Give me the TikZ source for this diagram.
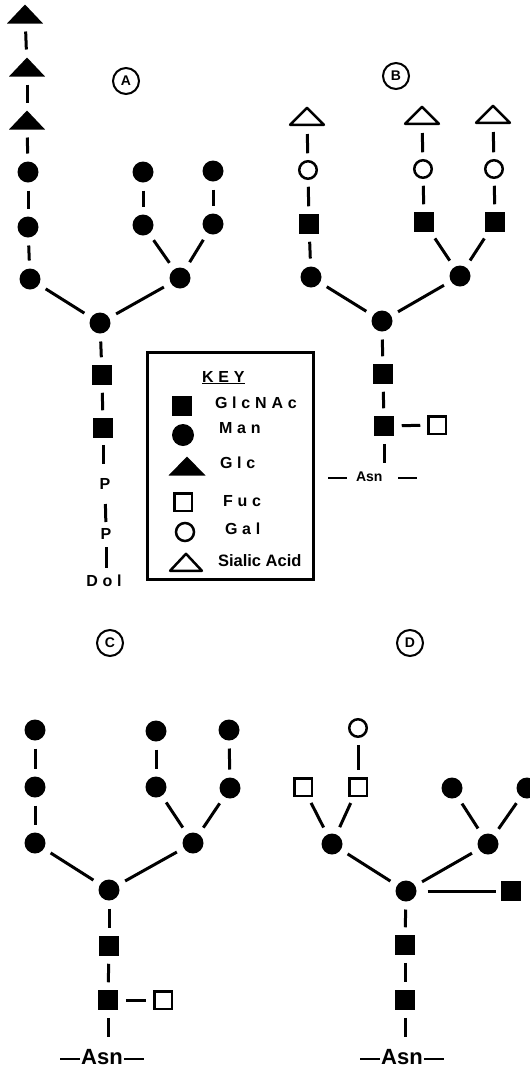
\documentclass[tikz,border=0pt]{standalone}
\usepackage{fontspec}
\setmainfont{Liberation Sans}
\newfontfamily\spacedfont{Liberation Sans}[LetterSpace=30]
\begin{document}
\begin{tikzpicture}[x=1pt,y=-1pt,
  every node/.style={inner sep=0pt, outer sep=0pt},
  man/.style={circle, fill=black, minimum size=21pt},
  glcnac/.style={rectangle, fill=black, minimum size=19.5pt},
  gal/.style={circle, draw=black, line width=2.5pt, minimum size=17.5pt},
  fuc/.style={rectangle, draw=black, line width=2.5pt, minimum size=17.5pt},
  glc/.style={rectangle, minimum width=36pt, minimum height=19pt,
    append after command={\pgfextra{\fill[black] (\tikzlastnode.south west) -- (\tikzlastnode.north) -- (\tikzlastnode.south east) -- cycle;}}},
  sia/.style={rectangle, minimum width=37pt, minimum height=20pt,
    append after command={\pgfextra{\draw[black, line width=2.5pt, line join=round]
      ([shift={(1.6pt,1.25pt)}]\tikzlastnode.south west) -- ([yshift=-1.8pt]\tikzlastnode.north) -- ([shift={(-1.6pt,1.25pt)}]\tikzlastnode.south east) -- cycle;}}},
  link/.style={line width=3pt, shorten <=8pt, shorten >=8pt},
  panel/.style={circle, draw=black, line width=2pt, minimum size=26pt, font=\fontsize{14}{14}\selectfont\bfseries},
  keytxt/.style={anchor=base west, font=\spacedfont\fontsize{16}{16}\selectfont\bfseries},
  ptxt/.style={anchor=base, font=\spacedfont\fontsize{16}{16}\selectfont\bfseries},
  asnbig/.style={font=\fontsize{22}{22}\selectfont\bfseries},
  asnsmall/.style={anchor=west, font=\fontsize{14}{14}\selectfont\bfseries}
]
\useasboundingbox (0,0) rectangle (530,1069);
\fill[white] (0,0) rectangle (530,1069);
\clip (0,0) rectangle (530,1069);

% ---------------- Panel A ----------------
\node[panel] (labA) at (126,81) {A};
\node[glc] (ta1) at (25,14) {};
\node[glc] (ta2) at (27,67) {};
\node[glc] (ta3) at (27,120) {};
\node[man] (ma1) at (28,172) {};
\node[man] (ma2) at (28,227) {};
\node[man] (ma3) at (30,279) {};
\node[man] (mac) at (100,323) {};
\node[man] (mr1) at (143,172) {};
\node[man] (mr2) at (143,225) {};
\node[man] (ms1) at (213,171) {};
\node[man] (ms2) at (213,224) {};
\node[man] (mab) at (180,278) {};
\node[glcnac] (ga1) at (102,375) {};
\node[glcnac] (ga2) at (103,428) {};
\node[ptxt] (p1) at (105,489) {P};
\node[ptxt] (p2) at (106,539) {P};
\node[ptxt] (dol) at (104,586) {Dol};

\draw[link] (ta1) -- (ta2);
\draw[link] (ta2) -- (ta3);
\draw[link] (ta3) -- (ma1);
\draw[link] (ma1) -- (ma2);
\draw[link] (ma2) -- (ma3);
\draw[link] (ma3) -- (mac);
\draw[link] (mr1) -- (mr2);
\draw[link] (ms1) -- (ms2);
\draw[link] (mr2) -- (mab);
\draw[link] (ms2) -- (mab);
\draw[link] (mab) -- (mac);
\draw[link] (mac) -- (ga1);
\draw[link] (ga1) -- (ga2);
\draw[line width=3pt, shorten <=7pt, shorten >=14pt] (ga2) -- (ga2 |- p1.north);
\draw[line width=3pt, shorten <=15pt, shorten >=6pt] (p1.south) -- (p2.north);
\draw[line width=3pt, shorten <=8pt, shorten >=6pt] (p2.south) -- (p2.south |- dol.north);

% ---------------- Key ----------------
\node[draw=black, line width=2.2pt, minimum width=166pt, minimum height=227pt] (keybox) at (230.5,466) {};
\node[keytxt] (keyt) at (202,382) {\underline{KEY}};
\node[glcnac] (k1) at (182,406) {};
\node[keytxt] (k1t) at (215,408) {GlcNAc};
\node[man, minimum size=22pt] (k2) at (183,435) {};
\node[keytxt] (k2t) at (219,433) {Man};
\node[glc, minimum width=37pt] (k3) at (187,466) {};
\node[keytxt] (k3t) at (220,468) {Glc};
\node[fuc] (k4) at (183,502) {};
\node[keytxt] (k4t) at (223,506) {Fuc};
\node[gal, minimum size=18pt] (k5) at (185,532) {};
\node[keytxt] (k5t) at (225,534) {Gal};
\node[sia, minimum width=35pt] (k6) at (186,562) {};
\node[anchor=base west, font=\fontsize{16.5}{16.5}\selectfont\bfseries] (k6t) at (218,566) {Sialic Acid};

% ---------------- Panel B ----------------
\node[panel] (labB) at (396,76) {B};
\node[sia] (sb1) at (307,116) {};
\node[sia] (sb2) at (422,115) {};
\node[sia] (sb3) at (493,114) {};
\node[gal] (gb1) at (308,170) {};
\node[gal] (gb2) at (423,169) {};
\node[gal] (gb3) at (494,169) {};
\node[glcnac] (nb1) at (309,224) {};
\node[glcnac] (nb2) at (424,222) {};
\node[glcnac] (nb3) at (495,222) {};
\node[man] (mb1) at (311,277) {};
\node[man] (mb2) at (460,276) {};
\node[man] (mbc) at (382,321) {};
\node[glcnac] (nb4) at (383,374) {};
\node[glcnac] (nb5) at (384,426) {};
\node[fuc] (fb) at (437,425) {};
\node[asnsmall] (asnB) at (328,477) {\rule[2.5pt]{19pt}{2.2pt}\hspace{9pt}Asn\hspace{16pt}\rule[2.5pt]{19pt}{2.2pt}};

\draw[link] (sb1) -- (gb1);
\draw[link] (gb1) -- (nb1);
\draw[link] (nb1) -- (mb1);
\draw[link] (mb1) -- (mbc);
\draw[link] (sb2) -- (gb2);
\draw[link] (gb2) -- (nb2);
\draw[link] (nb2) -- (mb2);
\draw[link] (sb3) -- (gb3);
\draw[link] (gb3) -- (nb3);
\draw[link] (nb3) -- (mb2);
\draw[link] (mb2) -- (mbc);
\draw[link] (mbc) -- (nb4);
\draw[link] (nb4) -- (nb5);
\draw[link] (nb5) -- (fb);
\draw[line width=3pt, shorten <=8pt, shorten >=9pt] (nb5) -- (nb5 |- asnB.north);

% ---------------- Panel C ----------------
\node[panel] (labC) at (110,643) {C};
\node[man] (mc1) at (35,730) {};
\node[man] (mc2) at (35,787) {};
\node[man] (mc3) at (35,843) {};
\node[man] (mcc) at (109,890) {};
\node[man] (mc4) at (156,731) {};
\node[man] (mc5) at (229,730) {};
\node[man] (mc6) at (156,787) {};
\node[man] (mc7) at (230,788) {};
\node[man] (mcb) at (193,843) {};
\node[glcnac] (nc1) at (109,946) {};
\node[glcnac] (nc2) at (108,1000) {};
\node[fuc] (fc) at (163,1000) {};
\node[asnbig] (asnC) at (102,1057.5) {\rule[5pt]{20pt}{2.4pt}\hspace{1pt}Asn\hspace{1pt}\rule[5pt]{20pt}{2.4pt}};

\draw[link] (mc1) -- (mc2);
\draw[link] (mc2) -- (mc3);
\draw[link] (mc3) -- (mcc);
\draw[link] (mc4) -- (mc6);
\draw[link] (mc5) -- (mc7);
\draw[link] (mc6) -- (mcb);
\draw[link] (mc7) -- (mcb);
\draw[link] (mcb) -- (mcc);
\draw[link] (mcc) -- (nc1);
\draw[link] (nc1) -- (nc2);
\draw[link] (nc2) -- (fc);
\draw[line width=3pt, shorten <=8pt, shorten >=13pt] (nc2) -- (nc2 |- asnC.north);

% ---------------- Panel D ----------------
\node[panel] (labD) at (410,643) {D};
\node[gal] (gd) at (358,728) {};
\node[fuc] (fd1) at (303,787) {};
\node[fuc] (fd2) at (358,787) {};
\node[man] (md1) at (332,844) {};
\node[man] (md2) at (452,788) {};
\node[man] (md3) at (527,788) {};
\node[man] (mdb) at (488,844) {};
\node[man] (mdc) at (406,891) {};
\node[glcnac, minimum size=20.5pt] (nd3) at (511,891) {};
\node[glcnac] (nd1) at (405,945) {};
\node[glcnac] (nd2) at (405,1000) {};
\node[asnbig] (asnD) at (402,1057.5) {\rule[5pt]{20pt}{2.4pt}\hspace{1pt}Asn\hspace{1pt}\rule[5pt]{20pt}{2.4pt}};

\draw[link] (gd) -- (fd2);
\draw[link] (fd1) -- (md1);
\draw[link] (fd2) -- (md1);
\draw[link] (md1) -- (mdc);
\draw[link] (md2) -- (mdb);
\draw[link] (md3) -- (mdb);
\draw[link] (mdb) -- (mdc);
\draw[line width=3pt, shorten <=11pt, shorten >=5pt] (mdc) -- (nd3);
\draw[link] (mdc) -- (nd1);
\draw[link] (nd1) -- (nd2);
\draw[line width=3pt, shorten <=8pt, shorten >=13pt] (nd2) -- (nd2 |- asnD.north);
\end{tikzpicture}
\end{document}
